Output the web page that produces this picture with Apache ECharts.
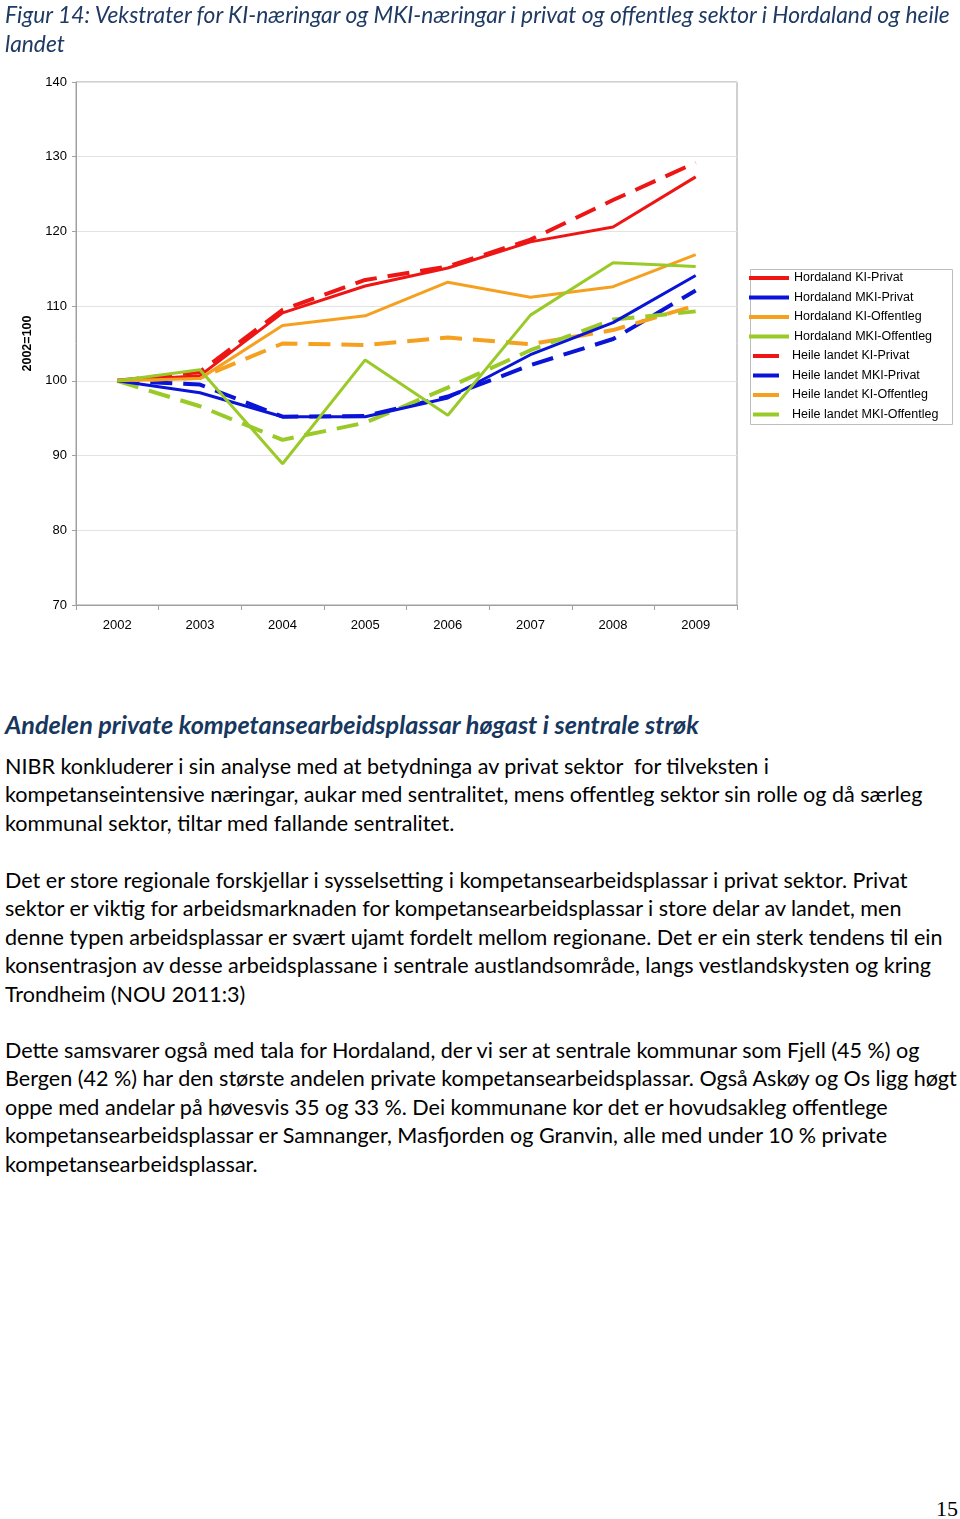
<!DOCTYPE html>
<html>
<head>
<meta charset="utf-8">
<script src="https://cdn.jsdelivr.net/npm/echarts@6/dist/echarts.min.js"></script>
<style>
  html, body { margin: 0; padding: 0; background: #fff; }
  body { width: 960px; height: 1519px; position: relative; overflow: hidden; }
  #chart { position: absolute; left: 0; top: 0; width: 960px; height: 660px; z-index: 1; }
  .t { position: absolute; left: 5px; white-space: nowrap; font-family: Lato, "Open Sans", sans-serif; z-index: 2; }
  .title { top: 0px; font-size: 22.8px; line-height: 29px; font-style: italic; color: #1f3a63; }
  .head { top: 708px; font-size: 25.2px; line-height: 32px; font-style: italic; font-weight: bold; color: #17375e; }
  .p { font-size: 21.55px; line-height: 28.4px; color: #000; }
  .pg { position: absolute; right: 2px; top: 1496px; font-family: "Liberation Serif", serif; font-size: 22px; }
</style>
</head>
<body>
<div class="t title">Figur 14: Vekstrater for KI-næringar og MKI-næringar i privat og offentleg sektor i Hordaland og heile<br>landet</div>
<div id="chart"></div>
<div class="t head">Andelen private kompetansearbeidsplassar høgast i sentrale strøk</div>
<div class="t p" style="top:752px">NIBR konkluderer i sin analyse med at betydninga av privat sektor &nbsp;for tilveksten i<br>kompetanseintensive næringar, aukar med sentralitet, mens offentleg sektor sin rolle og då særleg<br>kommunal sektor, tiltar med fallande sentralitet.</div>
<div class="t p" style="top:866px">Det er store regionale forskjellar i sysselsetting i kompetansearbeidsplassar i privat sektor. Privat<br>sektor er viktig for arbeidsmarknaden for kompetansearbeidsplassar i store delar av landet, men<br>denne typen arbeidsplassar er svært ujamt fordelt mellom regionane. Det er ein sterk tendens til ein<br>konsentrasjon av desse arbeidsplassane i sentrale austlandsområde, langs vestlandskysten og kring<br>Trondheim (NOU 2011:3)</div>
<div class="t p" style="top:1036px">Dette samsvarer også med tala for Hordaland, der vi ser at sentrale kommunar som Fjell (45 %) og<br>Bergen (42 %) har den største andelen private kompetansearbeidsplassar. Også Askøy og Os ligg høgt<br>oppe med andelar på høvesvis 35 og 33 %. Dei kommunane kor det er hovudsakleg offentlege<br>kompetansearbeidsplassar er Samnanger, Masfjorden og Granvin, alle med under 10 % private<br>kompetansearbeidsplassar.</div>
<div class="pg">15</div>
<script>
const years = ['2002','2003','2004','2005','2006','2007','2008','2009'];
const seriesNames = ['Hordaland KI-Privat','Hordaland MKI-Privat','Hordaland KI-Offentleg','Hordaland MKI-Offentleg',
  'Heile landet KI-Privat','Heile landet MKI-Privat','Heile landet KI-Offentleg','Heile landet MKI-Offentleg'];
const hordKIPrivat    = [100, 100.7, 109.1, 112.7, 115.1, 118.6, 120.6, 127.3];
const hordMKIPrivat   = [100, 98.4, 95.2, 95.2, 97.7, 103.5, 107.8, 114.1];
const hordKIOff       = [100, 100.3, 107.4, 108.7, 113.2, 111.2, 112.6, 116.9];
const hordMKIOff      = [100, 101.5, 88.9, 102.8, 95.4, 108.8, 115.8, 115.3];
const landKIPrivat    = [100, 101.2, 109.5, 113.5, 115.3, 118.9, 124.2, 129.2];
const landMKIPrivat   = [100, 99.5, 95.2, 95.3, 97.9, 102.1, 105.6, 112.1];
const landKIOff       = [100, 100.4, 105.0, 104.8, 105.8, 104.9, 106.8, 110.1];
const landMKIOff      = [100, 96.6, 92.1, 94.4, 99.1, 104.1, 108.2, 109.3];
const yTicks = { min: 70, max: 140, interval: 10 };
const yName = '2002=100';

const dataSets = [hordKIPrivat, hordMKIPrivat, hordKIOff, hordMKIOff, landKIPrivat, landMKIPrivat, landKIOff, landMKIOff];
const colors = ['#ee1515', '#0a14d6', '#f6a020', '#9aca28', '#ee1515', '#0a14d6', '#f6a020', '#9aca28'];

const series = dataSets.map((d, i) => {
  const dashed = i >= 4;
  return {
    name: seriesNames[i],
    type: 'line',
    data: d,
    showSymbol: false,
    symbol: 'none',
    z: dashed ? 2 : 3,
    lineStyle: dashed ? { color: colors[i], width: 4, type: [22, 11] } : { color: colors[i], width: 3 },
    itemStyle: { color: colors[i] },
    emphasis: { disabled: true }
  };
});

const FONT = 'Arial, "Liberation Sans", sans-serif';
const chart = echarts.init(document.getElementById('chart'), null, { renderer: 'canvas' });
const legendText = { color: '#000', fontSize: 12.5, lineHeight: 14, fontFamily: FONT };
chart.setOption({
  animation: false,
  backgroundColor: 'transparent',
  grid: { left: 76, top: 82, width: 661, height: 523, show: true, borderColor: '#a0a0a0', borderWidth: 1 },
  xAxis: {
    type: 'category',
    data: years,
    boundaryGap: true,
    axisLine: { lineStyle: { color: '#a0a0a0' } },
    axisTick: { show: true, length: 5, lineStyle: { color: '#a0a0a0' } },
    axisLabel: { color: '#000', fontSize: 13, margin: 14, fontFamily: FONT },
    splitLine: { show: false }
  },
  yAxis: {
    type: 'value',
    min: yTicks.min, max: yTicks.max, interval: yTicks.interval,
    name: yName,
    nameLocation: 'middle',
    nameGap: 37,
    nameRotate: 90,
    nameTextStyle: { color: '#000', fontSize: 12.5, fontWeight: 'bold', fontFamily: FONT },
    axisLine: { show: true, lineStyle: { color: '#a0a0a0' } },
    axisTick: { show: true, length: 4, lineStyle: { color: '#a0a0a0' } },
    axisLabel: { color: '#000', fontSize: 13, margin: 9, fontFamily: FONT },
    splitLine: { show: true, lineStyle: { color: '#e3e3e3', width: 1 } }
  },
  legend: [
    {
      data: seriesNames.slice(0, 4),
      orient: 'vertical', left: 749, top: 271, padding: 0,
      itemWidth: 40, itemHeight: 4, itemGap: 5.5,
      icon: 'rect',
      textStyle: legendText,
      selectedMode: false
    },
    {
      data: seriesNames.slice(4),
      orient: 'vertical', left: 753, top: 349, padding: 0,
      itemWidth: 26, itemHeight: 4, itemGap: 5.5,
      icon: 'rect',
      textStyle: Object.assign({}, legendText, { padding: [0, 0, 0, 8] }),
      selectedMode: false
    }
  ],
  graphic: [
    { type: 'rect', left: 748, top: 267, shape: { width: 202, height: 155 }, style: { fill: 'none', stroke: '#bdbdbd', lineWidth: 1 }, z: -1 }
  ],
  series: series
});
</script>
</body>
</html>
